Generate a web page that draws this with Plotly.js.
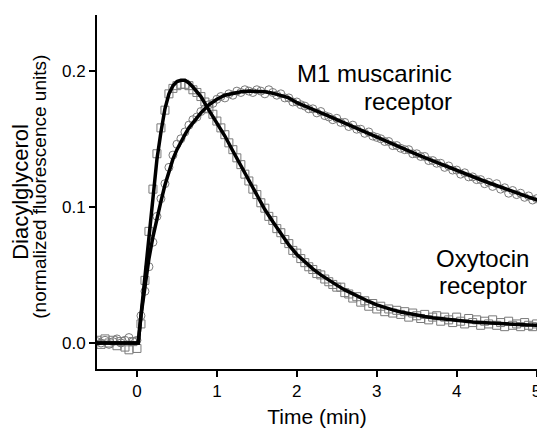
<!DOCTYPE html>
<html>
<head>
<meta charset="utf-8">
<script src="https://cdn.plot.ly/plotly-3.0.1.min.js"></script>
<style>html,body{margin:0;padding:0;background:#fff}#chart{width:537px;height:428px}</style>
</head>
<body>
<div id="chart"></div>
<script>
// Sampled time points (min)
var timeData = [-0.50,-0.45,-0.40,-0.35,-0.30,-0.25,-0.20,-0.15,-0.10,-0.05,
0.00,0.05,0.10,0.15,0.20,0.25,0.30,0.35,0.40,0.45,
0.50,0.55,0.60,0.65,0.70,0.75,0.80,0.85,0.90,0.95,
1.00,1.05,1.10,1.15,1.20,1.25,1.30,1.35,1.40,1.45,
1.50,1.55,1.60,1.65,1.70,1.75,1.80,1.85,1.90,1.95,
2.00,2.05,2.10,2.15,2.20,2.25,2.30,2.35,2.40,2.45,
2.50,2.55,2.60,2.65,2.70,2.75,2.80,2.85,2.90,2.95,
3.00,3.05,3.10,3.15,3.20,3.25,3.30,3.35,3.40,3.45,
3.50,3.55,3.60,3.65,3.70,3.75,3.80,3.85,3.90,3.95,
4.00,4.05,4.10,4.15,4.20,4.25,4.30,4.35,4.40,4.45,
4.50,4.55,4.60,4.65,4.70,4.75,4.80,4.85,4.90,4.95,5.00];

// Oxytocin receptor measurements (squares)
var oxytocinData = [0.002,-0.001,0.003,0.000,0.002,-0.002,0.001,-0.003,-0.005,0.001,
-0.004,0.014,0.046,0.082,0.113,0.139,0.158,0.171,0.183,0.187,
0.189,0.190,0.190,0.189,0.186,0.184,0.181,0.177,0.172,0.168,
0.163,0.158,0.153,0.147,0.142,0.136,0.131,0.124,0.119,0.113,
0.109,0.103,0.099,0.093,0.090,0.084,0.081,0.076,0.073,0.068,
0.066,0.062,0.059,0.056,0.054,0.051,0.050,0.047,0.045,0.043,
0.041,0.041,0.037,0.036,0.033,0.034,0.030,0.031,0.027,0.029,
0.025,0.027,0.023,0.025,0.022,0.024,0.021,0.023,0.019,0.022,
0.020,0.018,0.021,0.017,0.019,0.020,0.016,0.019,0.017,0.015,
0.019,0.016,0.014,0.018,0.015,0.017,0.013,0.016,0.014,0.017,
0.013,0.015,0.012,0.016,0.013,0.014,0.012,0.015,0.013,0.012,0.014];

// M1 muscarinic receptor measurements (circles)
var m1Data = [0.001,0.000,0.002,-0.001,0.001,0.003,0.000,0.002,0.004,0.001,
0.002,0.020,0.038,0.056,0.074,0.093,0.106,0.117,0.129,0.138,
0.146,0.150,0.155,0.160,0.164,0.166,0.170,0.172,0.175,0.176,
0.179,0.181,0.180,0.183,0.182,0.185,0.184,0.186,0.185,0.184,
0.186,0.185,0.183,0.186,0.184,0.182,0.183,0.180,0.180,0.177,
0.177,0.175,0.174,0.172,0.172,0.169,0.170,0.167,0.166,0.164,
0.165,0.162,0.162,0.159,0.160,0.157,0.157,0.154,0.155,0.152,
0.151,0.150,0.148,0.148,0.145,0.145,0.143,0.142,0.142,0.139,
0.139,0.137,0.137,0.134,0.134,0.132,0.132,0.129,0.130,0.127,
0.127,0.124,0.125,0.122,0.122,0.120,0.120,0.117,0.118,0.115,
0.117,0.113,0.114,0.110,0.112,0.109,0.110,0.107,0.108,0.105,0.106];

// Fitted curves
var timeFit = [-0.50,0.016,0.05,0.10,0.15,0.20,0.25,0.30,0.35,0.40,0.45,0.50,0.55,0.60,0.65,0.70,
0.80,0.90,1.00,1.10,1.20,1.30,1.40,1.50,1.60,1.70,1.80,1.90,2.00,2.10,2.20,2.30,2.40,2.50,
2.60,2.70,2.80,2.90,3.00,3.10,3.20,3.30,3.40,3.50,3.60,3.70,3.80,3.90,4.00,4.10,4.20,4.30,
4.40,4.50,4.60,4.70,4.80,4.90,5.00,5.10];
var oxytocinFit = [0,0,0.020,0.050,0.080,0.110,0.135,0.155,0.172,0.183,0.189,0.192,0.193,0.193,0.191,0.188,
0.181,0.171,0.162,0.152,0.141,0.130,0.119,0.108,0.098,0.089,0.080,0.072,0.065,0.0595,0.0545,0.050,0.046,0.0425,
0.039,0.036,0.033,0.0305,0.028,0.026,0.0243,0.0228,0.0215,0.0204,0.0194,0.0185,0.0178,0.0171,0.0165,0.016,0.0155,0.0151,
0.0147,0.0143,0.014,0.0137,0.0135,0.0132,0.013,0.0128];
var m1Fit = [0,0,0.020,0.043,0.062,0.078,0.092,0.104,0.116,0.126,0.135,0.142,0.148,0.153,0.158,0.162,
0.169,0.175,0.179,0.182,0.1835,0.1845,0.185,0.185,0.1845,0.1835,0.182,0.180,0.1765,0.1742,0.1718,0.1693,0.1667,0.1641,
0.1615,0.1589,0.1563,0.1537,0.1511,0.1486,0.1461,0.1436,0.1411,0.1386,0.1362,0.1338,0.1314,0.1290,0.1267,0.1244,0.1221,0.1199,
0.1177,0.1155,0.1134,0.1113,0.1092,0.1072,0.1052,0.1032];

var xTickVals = [0,1,2,3,4,5];
var xTickText = ['0','1','2','3','4','5'];
var yTickVals = [0,0.1,0.2];
var yTickText = ['0.0','0.1','0.2'];

var FONT = 'Liberation Sans, Arial, Helvetica, sans-serif';
var markerGray = '#7a7a7a';

var traces = [
  {x: timeData, y: oxytocinData, type: 'scatter', mode: 'markers', name: 'Oxytocin receptor',
   marker: {symbol: 'square-open', size: 8, color: markerGray, line: {width: 1}}},
  {x: timeData, y: m1Data, type: 'scatter', mode: 'markers', name: 'M1 muscarinic receptor',
   marker: {symbol: 'circle-open', size: 8, color: markerGray, line: {width: 1}}},
  {x: timeFit, y: oxytocinFit, type: 'scatter', mode: 'lines', name: 'Oxytocin fit',
   line: {color: '#000', width: 3.5}},
  {x: timeFit, y: m1Fit, type: 'scatter', mode: 'lines', name: 'M1 fit',
   line: {color: '#000', width: 3.5}}
];

var layout = {
  width: 537, height: 428,
  margin: {l: 97, r: 0, t: 15, b: 59, pad: 0},
  paper_bgcolor: '#fff', plot_bgcolor: '#fff',
  showlegend: false,
  font: {family: FONT, color: '#000', size: 17},
  xaxis: {
    range: [-0.5, 5.005], showgrid: false, zeroline: false,
    showline: true, linecolor: '#000', linewidth: 2,
    ticks: 'outside', ticklen: 6, tickwidth: 2, tickcolor: '#000',
    tickvals: xTickVals, ticktext: xTickText, ticklabeloverflow: 'allow',
    tickfont: {family: FONT, size: 17, color: '#000'},
    title: {text: 'Time (min)', font: {family: FONT, size: 21, color: '#000'}, standoff: 10}
  },
  yaxis: {
    range: [-0.0191, 0.2409], showgrid: false, zeroline: false,
    showline: true, linecolor: '#000', linewidth: 2,
    ticks: 'outside', ticklen: 6, tickwidth: 2, tickcolor: '#000',
    tickvals: yTickVals, ticktext: yTickText,
    tickfont: {family: FONT, size: 17, color: '#000'},
    title: {text: 'Diacylglycerol', font: {family: FONT, size: 22, color: '#000'}, standoff: 27}
  },
  annotations: [
    {x: -0.1295, y: 0.515, xref: 'paper', yref: 'paper', text: '(normalized fluorescence units)',
     textangle: -90, showarrow: false, xanchor: 'center', yanchor: 'middle',
     font: {family: FONT, size: 19, color: '#000'}},
    {x: 3.97, y: 0.1983, xref: 'x', yref: 'y', text: 'M1 muscarinic', showarrow: false,
     xanchor: 'right', yanchor: 'middle', font: {family: FONT, size: 24, color: '#000'}},
    {x: 3.97, y: 0.1772, xref: 'x', yref: 'y', text: 'receptor', showarrow: false,
     xanchor: 'right', yanchor: 'middle', font: {family: FONT, size: 24, color: '#000'}},
    {x: 4.325, y: 0.0624, xref: 'x', yref: 'y', text: 'Oxytocin', showarrow: false,
     xanchor: 'center', yanchor: 'middle', font: {family: FONT, size: 24, color: '#000'}},
    {x: 4.325, y: 0.0421, xref: 'x', yref: 'y', text: 'receptor', showarrow: false,
     xanchor: 'center', yanchor: 'middle', font: {family: FONT, size: 24, color: '#000'}}
  ]
};

Plotly.newPlot('chart', traces, layout, {staticPlot: true, displayModeBar: false});
</script>
</body>
</html>
